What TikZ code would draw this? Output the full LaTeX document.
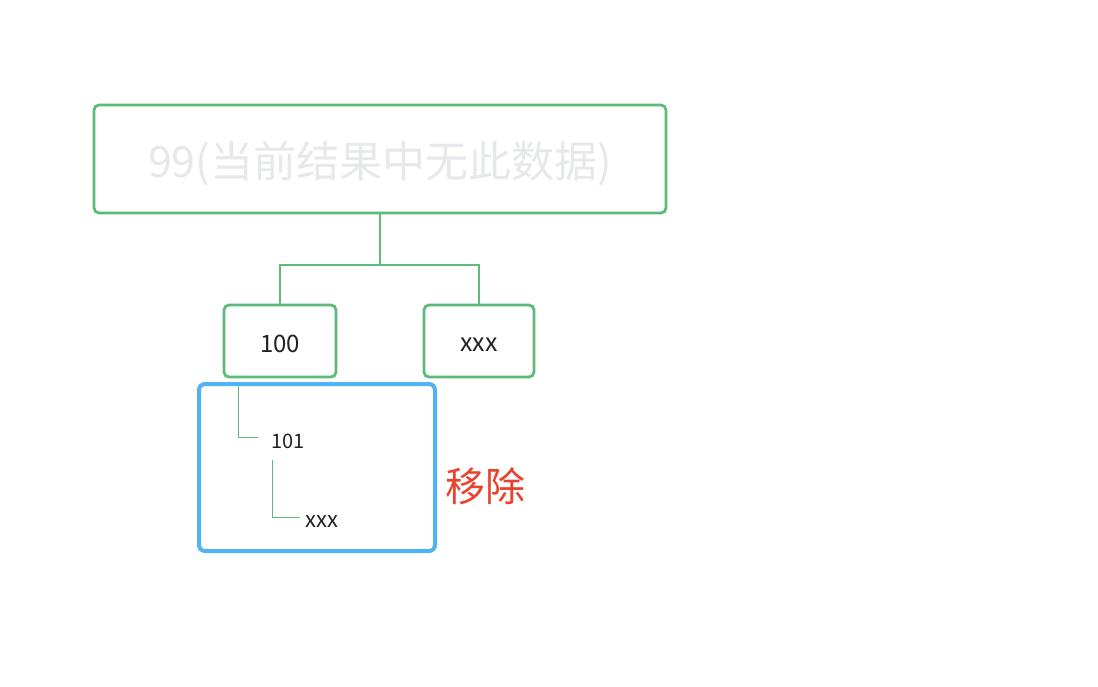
\documentclass[tikz,border=0pt]{standalone}
\usepackage{fontspec}
\setmainfont{Noto Sans CJK SC}
\definecolor{grn}{HTML}{5DBB7A}
\definecolor{blu}{HTML}{4FB3F6}
\definecolor{redc}{HTML}{E8432E}
\definecolor{lgray}{HTML}{E6E8EC}
\definecolor{dark}{HTML}{222222}
\begin{document}
\begin{tikzpicture}[x=1pt,y=-1pt,
  gbox/.style={draw=grn,line width=2.8pt,rounded corners=5pt},
  conn/.style={draw=grn,line width=2.8pt},
  thin/.style={draw=grn,line width=1pt},
  txt/.style={text=dark,inner sep=0pt}]
\useasboundingbox (0,0) rectangle (1098,686);
\fill[white] (0,0) rectangle (1098,686);
\node[gbox,minimum width=572pt,minimum height=108pt,inner sep=0pt] (top) at (380,159) {};
\node[text=lgray,font=\fontsize{43}{46}\selectfont,inner sep=0pt] (toptext) at (380,164) {99(当前结果中无此数据)};
\node[gbox,minimum width=112pt,minimum height=72pt,inner sep=0pt] (b100) at (280,341) {};
\node[txt,font=\fontsize{24}{26}\selectfont] (t100) at (280,344) {100};
\node[gbox,minimum width=110pt,minimum height=72pt,inner sep=0pt] (bxxx) at (479,341) {};
\node[txt,font=\fontsize{25}{27}\selectfont] (txxx) at (479,345) {xxx};
\coordinate (mid) at (380,265);
\draw[conn] (top.south) -- (mid);
\draw[conn] (b100.north) |- (mid) -| (bxxx.north);
\node[draw=blu,line width=4pt,rounded corners=6pt,minimum width=236pt,minimum height=167pt,inner sep=0pt] (blue) at (317,467.5) {};
\node[txt,font=\fontsize{20}{22}\selectfont,anchor=west] (t101) at (271,441) {101};
\node[txt,font=\fontsize{22}{24}\selectfont,anchor=west] (tx2) at (305,522) {xxx};
\coordinate (l1a) at (238,386);
\coordinate (l1b) at (238,437);
\coordinate (l1c) at (258,437);
\draw[thin] (l1a) -- (l1b) -- (l1c);
\coordinate (l2a) at (272,460);
\coordinate (l2b) at (272,517);
\coordinate (l2c) at (300,517);
\draw[thin] (l2a) -- (l2b) -- (l2c);
\node[text=redc,font=\fontsize{40}{44}\selectfont,inner sep=0pt] (rm) at (485,486) {移除};
\end{tikzpicture}
\end{document}
